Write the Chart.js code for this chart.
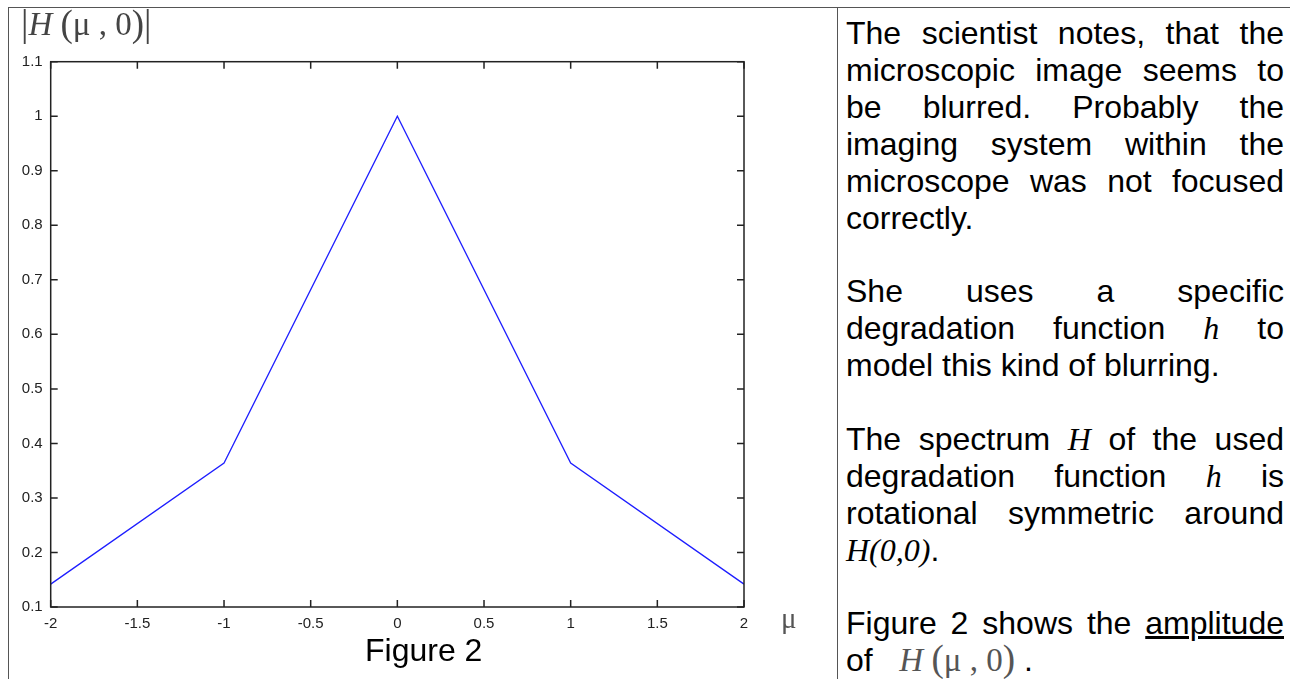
<!DOCTYPE html>
<html>
<head>
<meta charset="utf-8">
<script src="https://cdn.jsdelivr.net/npm/chart.js@4.4.1/dist/chart.umd.min.js"></script>
<style>
  html, body { margin: 0; padding: 0; background: #fff; }
  body { width: 1290px; height: 679px; position: relative; overflow: hidden; font-family: "Liberation Sans", Arial, sans-serif; }
  .rule { position: absolute; background: #555; }
  #chartBox { position: absolute; left: 0; top: 0; width: 837px; height: 679px; }
  #ylab { position: absolute; left: 21px; top: 2px; font-family: "Liberation Serif", serif; color: #444; font-size: 33px; white-space: nowrap; }
  #ylab .big { font-size: 37px; vertical-align: -1px; }
  #mu { position: absolute; left: 781px; top: 602px; font-family: "Liberation Serif", serif; color: #555; font-size: 29px; }
  #caption { position: absolute; left: 365px; top: 632px; font-size: 32px; color: #000; }
  #notes { position: absolute; left: 846px; top: 15px; width: 438px; font-size: 32px; line-height: 36.9px; color: #000; text-align: justify; }
  #notes p { margin: 0 0 36.9px 0; }
  .m { font-family: "Liberation Serif", serif; font-style: italic; }
  .math { font-family: "Liberation Serif", serif; color: #555; font-size: 33px; line-height: 30px; }
  .math .big { font-size: 37px; }
</style>
</head>
<body>
<div class="rule" style="left:8px; top:7px; width:1282px; height:1px;"></div>
<div class="rule" style="left:8px; top:7px; width:1px; height:672px;"></div>
<div class="rule" style="left:837px; top:7px; width:1px; height:672px;"></div>

<div id="chartBox"><canvas id="ampChart"></canvas></div>

<div id="ylab"><span class="big">|</span><i>H</i> <span class="big">(</span>μ , 0<span class="big">)|</span></div>
<div id="mu">μ</div>
<div id="caption">Figure 2</div>

<div id="notes">
  <p>The scientist notes, that the microscopic image seems to be blurred. Probably the imaging system within the microscope was not focused correctly.</p>
  <p>She uses a specific degradation function <span class="m">h</span> to model this kind of blurring.</p>
  <p>The spectrum <span class="m">H</span> of the used degradation function <span class="m">h</span> is rotational symmetric around <span class="m">H(0,0)</span>.</p>
  <p>Figure 2 shows the <u>amplitude</u> of &nbsp; <span class="math"><i>H</i> <span class="big">(</span>μ , 0<span class="big">)</span></span> .</p>
</div>

<script>
const muValues = [-2, -1, 0, 1, 2];
const amplitude = [0.142, 0.364, 1.0, 0.364, 0.142];
const xTickValues = [-2, -1.5, -1, -0.5, 0, 0.5, 1, 1.5, 2];
const xTickLabels = ['-2', '-1.5', '-1', '-0.5', '0', '0.5', '1', '1.5', '2'];
const yTickValues = [0.1, 0.2, 0.3, 0.4, 0.5, 0.6, 0.7, 0.8, 0.9, 1.0, 1.1];
const yTickLabels = ['0.1', '0.2', '0.3', '0.4', '0.5', '0.6', '0.7', '0.8', '0.9', '1', '1.1'];

// frame + inward tick marks on all four sides
const frameTicks = {
  id: 'frameTicks',
  afterDatasetsDraw(chart) {
    const { ctx, chartArea: a, scales } = chart
    const len = 7
    ctx.save()
    ctx.strokeStyle = '#222'
    ctx.lineWidth = 1.5
    ctx.strokeRect(a.left, a.top, a.right - a.left, a.bottom - a.top)
    ctx.beginPath()
    xTickValues.forEach(v => {
      const px = scales.x.getPixelForValue(v)
      ctx.moveTo(px, a.bottom); ctx.lineTo(px, a.bottom - len)
      ctx.moveTo(px, a.top); ctx.lineTo(px, a.top + len)
    })
    yTickValues.forEach(v => {
      const py = scales.y.getPixelForValue(v)
      ctx.moveTo(a.left, py); ctx.lineTo(a.left + len, py)
      ctx.moveTo(a.right, py); ctx.lineTo(a.right - len, py)
    })
    ctx.stroke()
    ctx.restore()
  }
}

const tickFont = { family: '"Liberation Sans", Arial, sans-serif', size: 15 }

new Chart(document.getElementById('ampChart').getContext('2d'), {
  type: 'line',
  data: {
    datasets: [{
      data: muValues.map((m, i) => ({ x: m, y: amplitude[i] })),
      borderColor: 'rgb(30, 30, 255)',
      borderWidth: 1.3,
      pointRadius: 0,
      tension: 0,
      fill: false
    }]
  },
  options: {
    responsive: true,
    maintainAspectRatio: false,
    animation: false,
    layout: { padding: { left: 10.7, top: 61.7, right: 93, bottom: 42 } },
    plugins: { legend: { display: false }, tooltip: { enabled: false } },
    scales: {
      x: {
        type: 'linear',
        min: -2,
        max: 2,
        afterFit(scale) { scale.height = 30 },
        afterBuildTicks(scale) { scale.ticks = xTickValues.map(v => ({ value: v })) },
        grid: { display: false, drawTicks: false },
        border: { display: false },
        ticks: {
          padding: 8,
          color: '#222',
          font: tickFont,
          maxRotation: 0,
          autoSkip: false,
          callback: (v, i) => xTickLabels[i]
        }
      },
      y: {
        min: 0.1,
        max: 1.1,
        afterFit(scale) { scale.width = 40 },
        afterBuildTicks(scale) { scale.ticks = yTickValues.map(v => ({ value: v })) },
        grid: { display: false, drawTicks: false },
        border: { display: false },
        ticks: {
          padding: 8,
          color: '#222',
          font: tickFont,
          autoSkip: false,
          callback: (v, i) => yTickLabels[i]
        }
      }
    }
  },
  plugins: [frameTicks]
})
</script>
</body>
</html>
